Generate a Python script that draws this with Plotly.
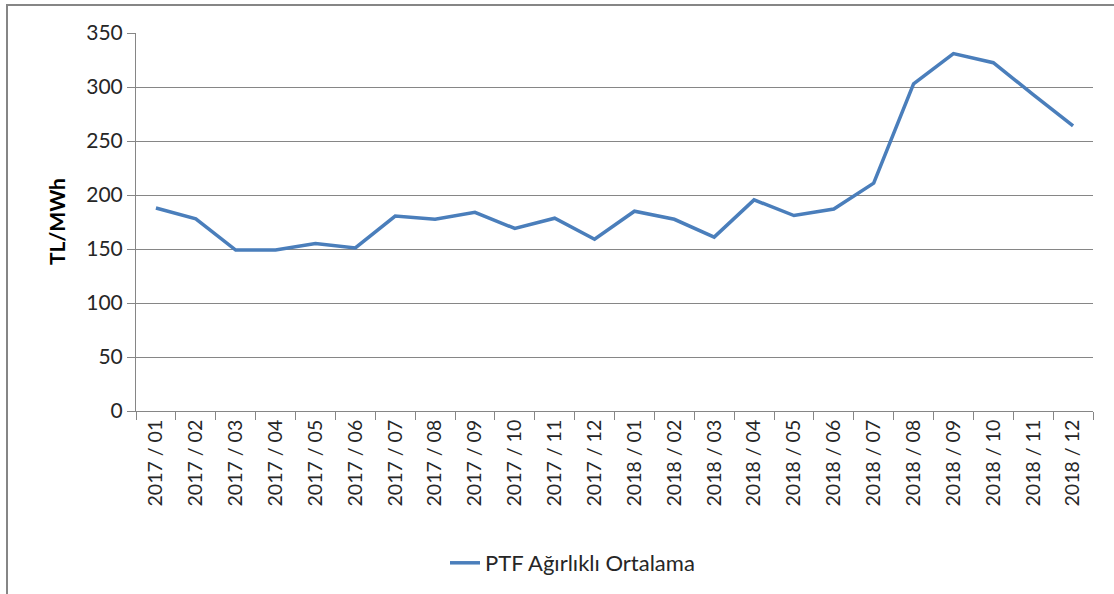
import plotly.graph_objects as go

categories = ["2017 / 01", "2017 / 02", "2017 / 03", "2017 / 04", "2017 / 05", "2017 / 06",
              "2017 / 07", "2017 / 08", "2017 / 09", "2017 / 10", "2017 / 11", "2017 / 12",
              "2018 / 01", "2018 / 02", "2018 / 03", "2018 / 04", "2018 / 05", "2018 / 06",
              "2018 / 07", "2018 / 08", "2018 / 09", "2018 / 10", "2018 / 11", "2018 / 12"]
ptf_values = [188, 178, 149, 149, 155, 151, 180.5, 177.5, 184, 169, 178.5, 159,
              185, 177.5, 161, 195.5, 181, 187, 211, 303, 331, 322.5, 293, 264]
y_ticks = [0, 50, 100, 150, 200, 250, 300, 350]

W, H = 1114, 594
L, R, T, B = 136, 21, 33, 182
pw, ph = W - L - R, H - T - B

font = "Lato, 'Open Sans', sans-serif"
txt = "#262626"
grey = "#868686"

fig = go.Figure()
fig.add_trace(go.Scatter(
    x=categories, y=ptf_values, mode="lines",
    name="PTF Ağırlıklı Ortalama",
    line=dict(color="#4a7ebb", width=3.5),
))

fig.update_layout(
    width=W, height=H,
    margin=dict(l=L, r=R, t=T, b=B),
    paper_bgcolor="white", plot_bgcolor="white",
    font=dict(family=font, color=txt),
    showlegend=True,
    legend=dict(orientation="h", x=(445 - L) / pw, xanchor="left",
                y=(T + ph - 563) / ph, yanchor="middle",
                font=dict(size=22, family=font, color=txt)),
    xaxis=dict(
        type="category", tickangle=-90, tickfont=dict(size=19.5, family=font, color=txt),
        showline=True, linecolor=grey, linewidth=1,
        ticks="outside", ticklen=8, tickcolor=grey, tickson="boundaries",
        showgrid=False, range=[-0.5, len(categories) - 0.5],
    ),
    yaxis=dict(
        range=[0, 350], tickvals=y_ticks, tickfont=dict(size=21, family=font, color=txt),
        showline=True, linecolor=grey, linewidth=1,
        ticks="outside", ticklen=8, tickcolor=grey,
        showgrid=True, gridcolor=grey, gridwidth=1, zeroline=False,
    ),
    annotations=[dict(
        text="<b>TL/MWh</b>", textangle=-90, xref="paper", yref="paper",
        x=(56 - L) / pw, y=0.5, xanchor="center", yanchor="middle", showarrow=False,
        font=dict(size=21, family=font, color="#000000"),
    )],
)

# outer chart border (left and top edges visible)
fig.add_shape(type="rect", xref="paper", yref="paper",
              x0=(7 - L) / pw, x1=(1125 - L) / pw,
              y0=(T + ph - 600) / ph, y1=(T + ph - 5) / ph,
              line=dict(color=grey, width=2), fillcolor="rgba(0,0,0,0)", layer="below")

fig.write_html("out.html", config={"displayModeBar": False},
               post_script="document.body.style.margin='0';")
